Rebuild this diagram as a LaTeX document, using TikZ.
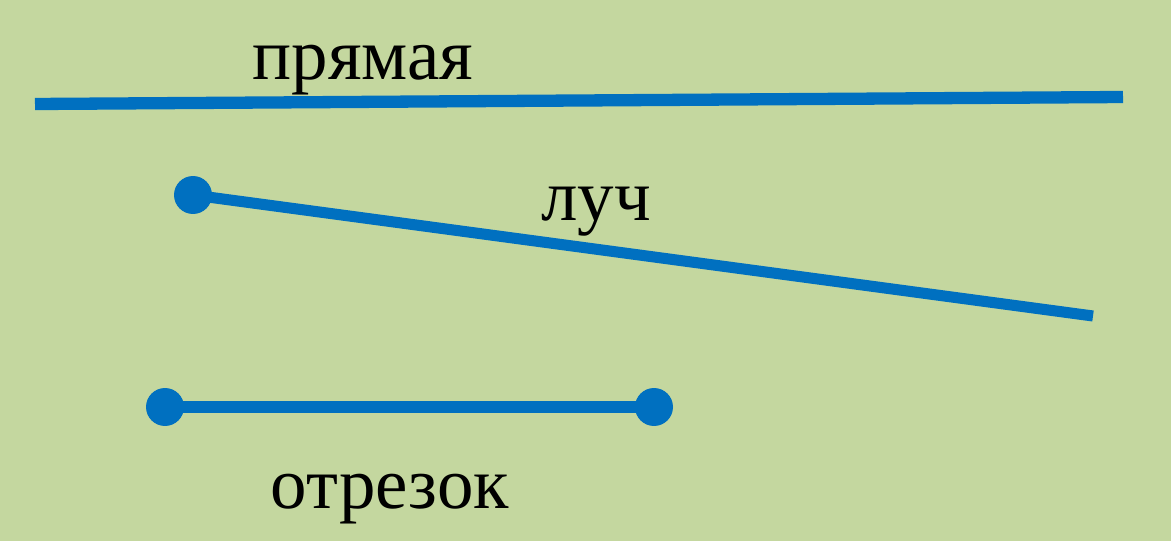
\documentclass[tikz,border=0pt]{standalone}
\usepackage{fontspec}
\setmainfont{Liberation Serif}
\definecolor{bg}{RGB}{196,215,159}
\definecolor{ln}{RGB}{0,112,192}
\begin{document}
\begin{tikzpicture}[x=0.02cm,y=-0.02cm,
  lineobj/.style={draw=ln,line width=6.3pt},
  dotobj/.style={circle,fill=ln,inner sep=0pt,minimum size=0.76cm},
  lbl/.style={font=\fontsize{41.5}{46}\selectfont,inner sep=0pt,anchor=base}]
\fill[bg] (0,0) rectangle (1171,541);
\useasboundingbox (0,0) rectangle (1171,541);
% прямая
\coordinate (l1a) at (35,104);
\coordinate (l1b) at (1123,97);
\draw[lineobj,line width=7pt] (l1a) -- (l1b);
\node[lbl] (t1) at (363,79) {прямая};
% луч
\node[dotobj] (r0) at (193,195) {};
\coordinate (r1) at (1093,316);
\draw[lineobj] (r0.center) -- (r1);
\node[lbl] (t2) at (596,220) {луч};
% отрезок
\node[dotobj] (s0) at (165,407) {};
\node[dotobj] (s1) at (654,407) {};
\draw[lineobj] (s0.center) -- (s1.center);
\node[lbl] (t3) at (390,508) {отрезок};
\end{tikzpicture}
\end{document}
